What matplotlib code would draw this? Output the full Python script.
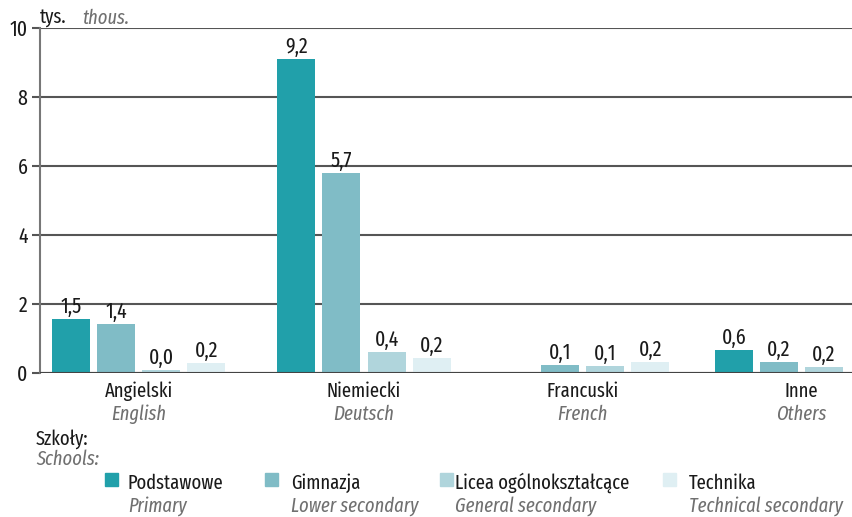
import matplotlib.pyplot as plt
import numpy as np

# data
languages = ["Angielski", "Niemiecki", "Francuski", "Inne"]
languages_en = ["English", "Deutsch", "French", "Others"]
schools = ["Podstawowe", "Gimnazja", "Licea ogólnokształcące", "Technika"]
schools_en = ["Primary", "Lower secondary", "General secondary", "Technical secondary"]

# printed values (thous.), None = no bar
podstawowe = [1.5, 9.2, None, 0.6]
gimnazja = [1.4, 5.7, 0.1, 0.2]
licea = [0.0, 0.4, 0.1, 0.2]
technika = [0.2, 0.2, 0.2, None]

# bar heights as drawn in the reference (slightly off the printed numbers)
podstawowe_h = [1.57, 9.1, None, 0.66]
gimnazja_h = [1.43, 5.8, 0.23, 0.32]
licea_h = [0.09, 0.61, 0.2, 0.17]
technika_h = [0.3, 0.44, 0.32, None]

colors = ["#21a0aa", "#80bcc6", "#b0d5dc", "#dfeff3"]

plt.rcParams['font.family'] = ['Fira Sans Extra Condensed', 'DejaVu Sans']
FS = 14.5
FS_VAL = 15.5
DARK = '#1a1a1a'
GREY = '#707070'

fig = plt.figure(figsize=(8.53, 5.17), dpi=100)
ax = fig.add_axes([0.0469, 0.2785, 0.9531, 0.6673])

group_x = [0, 1.02, 2.01, 3.0]
stride = 0.204
width = 0.172

series = [podstawowe, gimnazja, licea, technika]
heights = [podstawowe_h, gimnazja_h, licea_h, technika_h]

for j in range(4):
    for i in range(len(languages)):
        if heights[j][i] is None:
            continue
        xpos = group_x[i] + (j - 1.5) * stride
        ax.bar(xpos, heights[j][i], width=width, color=colors[j], zorder=3)
        label = ("%.1f" % series[j][i]).replace(".", ",")
        ax.text(xpos, heights[j][i] + 0.04, label, ha='center', va='bottom',
                fontsize=FS_VAL, color=DARK, zorder=4)

ax.set_xlim(-0.446, 3.233)
ax.set_ylim(0, 10)
ax.set_yticks([0, 2, 4, 6, 8, 10])
ax.set_yticklabels(["0", "2", "4", "6", "8", "10"], fontsize=FS_VAL, color=DARK)
ax.yaxis.grid(True, color='#555555', linewidth=1.5, zorder=0)
ax.tick_params(axis='y', length=6, width=1.5, color='#555555', pad=3)
ax.set_xticks([])

for s in ['top', 'right', 'bottom']:
    ax.spines[s].set_visible(False)
ax.spines['left'].set_color('#777777')
ax.spines['left'].set_linewidth(1.5)
ax.axhline(0, color='#444444', linewidth=1.5, zorder=5)

# category labels
for i in range(len(languages)):
    ax.text(group_x[i], -0.25, languages[i], ha='center', va='top', fontsize=FS,
            color=DARK, clip_on=False)
    ax.text(group_x[i], -0.92, languages_en[i], ha='center', va='top', fontsize=FS,
            color=GREY, style='italic', clip_on=False)

# unit
fig.text(40 / 853, 1 - 18 / 517, "tys.", fontsize=FS, color=DARK, va='center')
fig.text(82 / 853, 1 - 18 / 517, "thous.", fontsize=FS, color=GREY,
         style='italic', va='center')

# legend
fig.text(36 / 853, 1 - 439 / 517, "Szkoły:", fontsize=FS, color=DARK, va='center')
fig.text(36 / 853, 1 - 459 / 517, "Schools:", fontsize=FS, color=GREY,
         style='italic', va='center')

patch_x = [105, 265, 440, 663]
text_x = [128, 291, 455, 689]
for j in range(4):
    fig.patches.append(plt.Rectangle((patch_x[j] / 853, 1 - 486 / 517), 13 / 853, 13 / 517,
                                     transform=fig.transFigure, color=colors[j]))
    fig.text(text_x[j] / 853, 1 - 483 / 517, schools[j], fontsize=FS,
             color=DARK, va='center')
    fig.text(text_x[j] / 853, 1 - 506 / 517, schools_en[j], fontsize=FS,
             color=GREY, style='italic', va='center')

plt.savefig("out.png", dpi=100)
